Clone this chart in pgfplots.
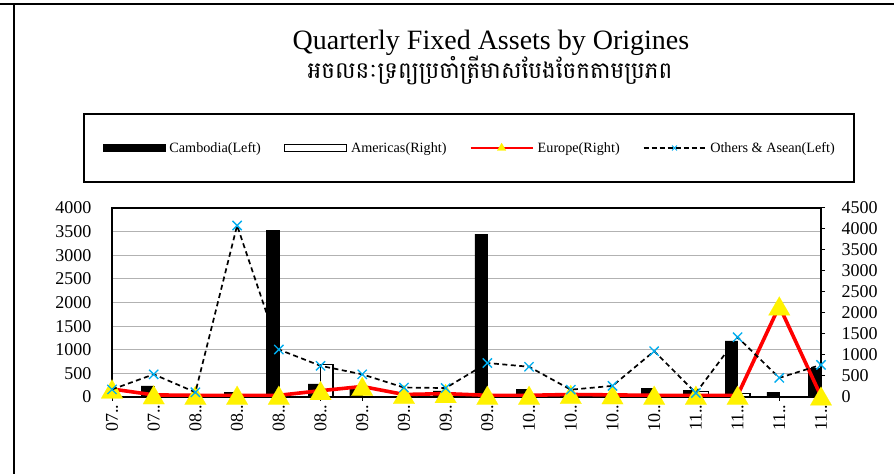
\documentclass[border=0pt]{standalone}
\usepackage{pgfplots}
\usepackage{pgfplotstable}
\pgfplotsset{compat=1.18}
\usepackage{fontspec}
\setmainfont{Liberation Serif}
\newfontfamily\khmerfont[Script=Khmer]{Battambang}

% quarter, Cambodia(L), Americas(R), Europe(R), Others & Asean(L)
\pgfplotstableread{
x cam ame eur oth
0 100 0 190 160
1 235 0 50 480
2 60 0 40 100
3 100 0 40 3630
4 3520 0 40 1005
5 280 775 150 660
6 160 0 250 480
7 10 0 60 200
8 130 0 80 190
9 3445 0 40 720
10 160 0 40 640
11 30 0 60 155
12 20 0 50 235
13 190 0 40 970
14 145 140 40 85
15 1190 90 40 1265
16 105 20 2165 405
17 605 0 20 680
}\data

\pgfplotsset{
  base/.style={scale only axis, width=709bp, height=189bp,
    at={(112bp,77bp)}, anchor=south west,
    xmin=0, xmax=17,
    /pgf/number format/assume math mode=true,
    /pgf/number format/1000 sep={},
    tick label style={font=\fontsize{18bp}{18bp}\selectfont},
    axis line style={line width=1.4bp},
    tick align=outside, major tick length=4bp,
    tick style={black, line width=1bp}},
  barlegend/.style={legend image code/.code={
    \draw[##1] (0bp,-3.5bp) rectangle (62bp,3.5bp);}},
  linelegend/.style={legend image code/.code={
    \draw[##1, mark repeat=2, mark phase=2]
      plot coordinates {(0bp,0bp) (31bp,0bp) (62bp,0bp)};}},
}

\begin{document}
\begin{tikzpicture}
\useasboundingbox (0,0) rectangle (894bp,474bp);
\draw[line width=2bp] (0,470bp) -- (894bp,470bp);
\draw[line width=2bp] (14bp,0) -- (14bp,470bp);

\node[anchor=base, font=\fontsize{28bp}{30bp}\selectfont] at (491bp,424bp)
  {Quarterly Fixed Assets by Origines};
\node[font=\fontsize{23bp}{26bp}\selectfont] at (490bp,404bp)
  {\khmerfont អចលនៈទ្រព្យប្រចាំត្រីមាសបែងចែកតាមប្រភព};

% left axis: Cambodia bars, grid
\begin{axis}[base,
  ymin=0, ymax=4000, ytick={0,500,...,4000},
  ymajorgrids, grid style={gray!60, line width=0.9bp},
  xtick={0,...,17}, xtick pos=bottom, ytick pos=left,
  ytick style={draw=none},
  yticklabel style={xshift=-13bp},
  xticklabels={07..,07..,08..,08..,08..,08..,09..,09..,09..,09..,10..,10..,10..,10..,11..,11..,11..,11..},
  xticklabel style={rotate=90, anchor=east}]
  \addplot[ybar, bar width=12.5bp, bar shift=-6.25bp, fill=black, draw=black]
    table[x=x, y=cam] {\data};
\end{axis}

% right axis: Americas bars, Europe line
\begin{axis}[base,
  ymin=0, ymax=4500, ytick={0,500,...,4500},
  axis x line=none, axis y line*=right,
  yticklabel style={xshift=13bp}]
  \addplot[ybar, bar width=12.5bp, bar shift=6.25bp, fill=white, draw=black, line width=1.2bp]
    table[x=x, y=ame] {\data};
  \addplot[red, line width=3.6bp, mark=triangle*, mark size=12.5bp,
    mark options={solid, fill=yellow, draw=yellow, line width=0.1bp, yshift=-3bp}]
    table[x=x, y=eur] {\data};
\end{axis}

% left scale again: Others line on top, and the legend
\begin{axis}[base,
  ymin=0, ymax=4000, hide axis,
  legend columns=4,
  legend style={at={(-0.041,1.3175)}, anchor=west,
    draw=black, line width=1.8bp, inner xsep=19bp, inner ysep=28bp,
    font=\fontsize{14.2bp}{16bp}\selectfont,
    nodes={inner sep=0pt}, column sep=4bp,
    /tikz/every even column/.append style={column sep=23bp}},
  legend cell align=left]
  \addlegendimage{fill=black, draw=black, line width=0.6bp, barlegend}
  \addlegendimage{fill=white, draw=black, line width=1.2bp, barlegend}
  \addlegendimage{red, line width=2.2bp, mark=triangle*, mark size=5bp,
    mark options={solid, fill=yellow, draw=yellow, line width=0.1bp}, linelegend}
  \addlegendimage{black, line width=1.5bp, dash pattern=on 5bp off 3bp,
    mark=x, mark size=3.5bp, mark options={cyan, solid, line width=1bp}, linelegend}
  \addplot[forget plot, black, line width=1.7bp, dash pattern=on 5bp off 3.5bp,
    mark=x, mark size=6.5bp, mark options={cyan, solid, line width=1.3bp}]
    table[x=x, y=oth] {\data};
  \legend{Cambodia(Left), Americas(Right), Europe(Right), Others \& Asean(Left)}
\end{axis}
\end{tikzpicture}
\end{document}
